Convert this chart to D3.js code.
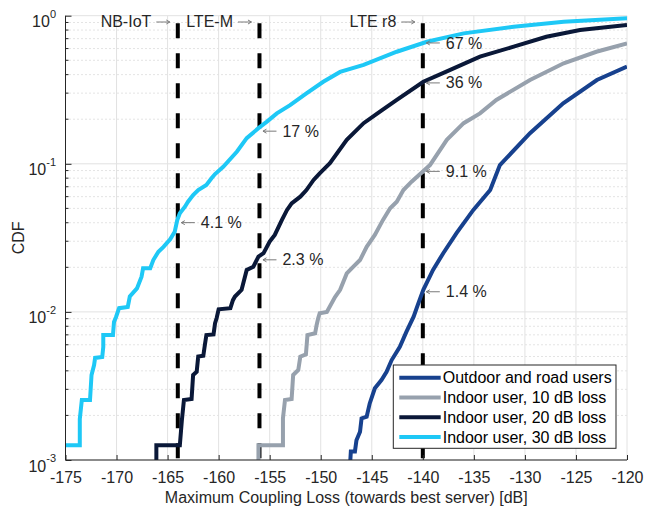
<!DOCTYPE html>
<html>
    <head>
        <meta charset="utf-8">
        <title>CDF coupling loss</title>
        <script type="text/javascript" src="https://d3js.org/d3.v7.min.js"></script>
        <style>
            body { margin: 0; background: #fff; }
            svg text { font-family: "Liberation Sans", Arial, Helvetica, sans-serif; }
        </style>
    </head>
    <body>
        <script>
            // axis ticks
            var xTicks = [-175, -170, -165, -160, -155, -150, -145, -140, -135, -130, -125, -120];
            var yDecades = [1e-3, 1e-2, 1e-1, 1];
            var yExponents = ["-3", "-2", "-1", "0"];

            // series
            var seriesNames = ["Outdoor and road users", "Indoor user, 10 dB loss", "Indoor user, 20 dB loss", "Indoor user, 30 dB loss"];
            var seriesColors = ["#17418e", "#97a1ad", "#0a1838", "#1ec8f6"];

            var outdoorX = [-147.1, -147.05, -146.65, -146.5, -146.15, -146.0, -145.5, -145.2, -144.7, -144.05, -143.55, -143.05, -142.25, -141.6, -140.9, -140.5, -139.95, -139.0, -138.0, -136.7, -135.05, -133.4, -132.45, -129.5, -126.25, -122.95, -120];
            var outdoorY = [0.001, 0.00114, 0.00114, 0.00136, 0.00155, 0.00191, 0.00196, 0.00241, 0.00305, 0.00347, 0.00394, 0.00473, 0.00582, 0.00735, 0.00929, 0.0111, 0.0141, 0.0192, 0.0249, 0.034, 0.0488, 0.0665, 0.098, 0.161, 0.256, 0.368, 0.453];

            var indoor10X = [-156.1, -156.1, -153.7, -153.7, -153.5, -152.85, -152.7, -152.2, -152.0, -151.45, -151.3, -150.55, -150.4, -150.25, -150.1, -149.4, -148.6, -148.1, -147.45, -146.8, -146.15, -145.5, -144.7, -143.9, -143.2, -142.55, -141.9, -141.1, -140.1, -139.3, -137.65, -136.0, -134.4, -132.8, -129.5, -126.2, -123.0, -120];
            var indoor10Y = [0.001, 0.00126, 0.00126, 0.00191, 0.00254, 0.00258, 0.00375, 0.00405, 0.00499, 0.00516, 0.00698, 0.00717, 0.00816, 0.00906, 0.0098, 0.01, 0.0126, 0.0141, 0.0182, 0.0202, 0.0224, 0.0275, 0.0331, 0.0418, 0.0501, 0.0555, 0.0665, 0.0757, 0.0874, 0.098, 0.145, 0.188, 0.219, 0.27, 0.368, 0.477, 0.571, 0.651];

            var indoor20X = [-166.1, -166.1, -163.8, -163.6, -163.4, -162.65, -162.5, -162.15, -162.0, -161.5, -161.35, -161.2, -160.5, -160.35, -160.2, -160.0, -158.85, -158.6, -158.4, -157.75, -157.25, -156.6, -156.1, -155.6, -155.0, -154.5, -153.8, -153.3, -152.85, -152.0, -151.4, -150.7, -150.1, -149.1, -147.45, -145.8, -144.2, -142.55, -139.95, -137.7, -134.4, -131.1, -127.9, -124.6, -120];
            var indoor20Y = [0.001, 0.00126, 0.00126, 0.00186, 0.00254, 0.00258, 0.00375, 0.00394, 0.00499, 0.00505, 0.00598, 0.00698, 0.00705, 0.00838, 0.00906, 0.0104, 0.0106, 0.012, 0.0127, 0.0141, 0.0192, 0.0202, 0.0236, 0.0249, 0.0298, 0.0331, 0.0418, 0.0488, 0.0541, 0.06, 0.0665, 0.0778, 0.0863, 0.1008, 0.145, 0.188, 0.225, 0.27, 0.358, 0.419, 0.529, 0.618, 0.721, 0.8, 0.865];

            var indoor30X = [-175, -173.6, -173.6, -173.4, -172.6, -172.45, -172.2, -172.1, -171.4, -171.3, -171.3, -170.35, -170.25, -170.05, -169.75, -168.9, -168.7, -168.0, -167.55, -167.4, -166.7, -166.4, -165.9, -165.4, -164.75, -164.3, -164.05, -163.8, -163.3, -163.0, -162.5, -162.0, -161.2, -160.7, -160.35, -159.55, -158.2, -157.25, -156.1, -155.3, -154.3, -153.0, -151.4, -149.75, -148.1, -145.8, -142.55, -139.6, -136.0, -131.1, -126.2, -120];
            var indoor30Y = [0.00126, 0.00126, 0.00189, 0.00254, 0.00254, 0.00375, 0.00438, 0.00489, 0.00496, 0.0058, 0.00698, 0.00698, 0.00855, 0.00924, 0.0106, 0.0108, 0.0127, 0.0144, 0.0173, 0.0197, 0.0197, 0.0224, 0.0255, 0.0275, 0.0309, 0.0348, 0.0418, 0.0463, 0.0513, 0.0555, 0.0616, 0.0665, 0.0719, 0.0798, 0.0853, 0.0955, 0.121, 0.149, 0.174, 0.192, 0.219, 0.249, 0.299, 0.358, 0.417, 0.465, 0.571, 0.667, 0.76, 0.843, 0.911, 0.96];

            // technology limits
            var limitX = [-164, -156, -140];
            var limitNames = ["NB-IoT", "LTE-M", "LTE r8"];

            // percentage callouts
            var noteX = [-164, -156, -156, -140, -140, -140, -140];
            var noteY = [0.041, 0.17, 0.023, 0.67, 0.36, 0.091, 0.014];
            var noteText = ["4.1 %", "17 %", "2.3 %", "67 %", "36 %", "9.1 %", "1.4 %"];

            var margin = {top: 15.7, right: 32, bottom: 46, left: 65.5};
            var width = 659 - margin.left - margin.right,
                height = 506 - margin.top - margin.bottom;

            var svg = d3.select("body").append("svg")
                .attr("width", 659)
                .attr("height", 506);

            var canvas = svg.append("g")
                .attr("transform", "translate(" + margin.left + "," + margin.top + ")");

            var x = d3.scaleLinear().domain([-175, -120]).range([0, width]);
            var y = d3.scaleLog().domain([1e-3, 1]).range([height, 0]);

            // minor y values 2..9 per decade
            var yMinor = [];
            yDecades.slice(0, 3).forEach(function(d) {
                for (var k = 2; k <= 9; k++) yMinor.push(d * k);
            });

            // grid
            canvas.append("g").selectAll("line")
                .data(yMinor)
                .enter().append("line")
                .attr("x1", 0).attr("x2", width)
                .attr("y1", function(d) { return y(d); })
                .attr("y2", function(d) { return y(d); })
                .attr("stroke", "#c8c8c8")
                .attr("stroke-width", 1)
                .attr("stroke-dasharray", "1,3");

            canvas.append("g").selectAll("line")
                .data(yDecades)
                .enter().append("line")
                .attr("x1", 0).attr("x2", width)
                .attr("y1", function(d) { return y(d); })
                .attr("y2", function(d) { return y(d); })
                .attr("stroke", "#e2e2e2");

            canvas.append("g").selectAll("line")
                .data(xTicks)
                .enter().append("line")
                .attr("x1", function(d) { return x(d); })
                .attr("x2", function(d) { return x(d); })
                .attr("y1", 0).attr("y2", height)
                .attr("stroke", "#e2e2e2");

            // dashed limit lines
            canvas.append("g").selectAll("line")
                .data(limitX)
                .enter().append("line")
                .attr("x1", function(d) { return x(d); })
                .attr("x2", function(d) { return x(d); })
                .attr("y1", y(0.89))
                .attr("y2", height)
                .attr("stroke", "#000")
                .attr("stroke-width", 4)
                .attr("stroke-dasharray", "15,15");

            // curves
            svg.append("defs").append("clipPath").attr("id", "plotclip")
                .append("rect").attr("width", width).attr("height", height);

            var allX = [outdoorX, indoor10X, indoor20X, indoor30X];
            var allY = [outdoorY, indoor10Y, indoor20Y, indoor30Y];

            var line = d3.line()
                .x(function(d) { return x(d[0]); })
                .y(function(d) { return y(d[1]); });

            var curves = canvas.append("g").attr("clip-path", "url(#plotclip)");
            allX.forEach(function(xs, i) {
                var pts = xs.map(function(v, j) { return [v, allY[i][j]]; });
                curves.append("path")
                    .datum(pts)
                    .attr("d", line)
                    .attr("fill", "none")
                    .attr("stroke", seriesColors[i])
                    .attr("stroke-width", 4)
                    .attr("stroke-linejoin", "miter");
            });

            // axes
            var xAxis = d3.axisBottom(x).tickValues(xTicks).tickSize(-5).tickPadding(12)
                .tickFormat(function(d) { return d; });
            var gx = canvas.append("g")
                .attr("transform", "translate(0," + height + ")")
                .call(xAxis);
            gx.selectAll("text").attr("font-size", 16).attr("fill", "#262626");

            var yAxis = d3.axisLeft(y).tickValues(yDecades).tickSize(-6).tickPadding(9.5);
            var gy = canvas.append("g").call(yAxis);
            gy.selectAll("text").each(function(d, i) {
                var t = d3.select(this);
                t.text(null).attr("font-size", 16).attr("fill", "#262626").attr("dy", "0.69em");
                t.append("tspan").text("10");
                t.append("tspan").attr("font-size", 11).attr("dy", "-0.85em").text(yExponents[i]);
            });
            // minor ticks
            gy.selectAll(".minor").data(yMinor).enter().append("line")
                .attr("x1", 0).attr("x2", 3)
                .attr("y1", function(d) { return y(d); })
                .attr("y2", function(d) { return y(d); })
                .attr("stroke", "#262626");

            [gx, gy].forEach(function(g) {
                g.select(".domain").attr("stroke", "#262626");
                g.selectAll(".tick line").attr("stroke", "#262626");
            });
            gy.select(".domain").attr("d", "M0," + height + "V0");
            gx.select(".domain").attr("d", "M0,0H" + width);

            // thin grey arrow, dir = 1 points right, -1 points left
            function arrow(x0, x1, yy, dir) {
                var tip = dir > 0 ? x1 : x0;
                canvas.append("path")
                    .attr("d", "M" + x0 + "," + yy + "H" + x1 +
                        "M" + (tip - dir * 3.5) + "," + (yy - 2) + "L" + tip + "," + yy +
                        "L" + (tip - dir * 3.5) + "," + (yy + 2))
                    .attr("fill", "none")
                    .attr("stroke", "#7a7a7a")
                    .attr("stroke-width", 1);
            }

            // limit labels
            limitX.forEach(function(v, i) {
                arrow(x(v) - 21.5, x(v) - 8, 6.3, 1);
                canvas.append("text")
                    .attr("x", x(v) - 26.5)
                    .attr("y", 10.8)
                    .attr("text-anchor", "end")
                    .attr("font-size", 16)
                    .attr("fill", "#262626")
                    .text(limitNames[i]);
            });

            // callouts
            noteX.forEach(function(v, i) {
                arrow(x(v) + 3.5, x(v) + 17, y(noteY[i]) + 1.5, -1);
                canvas.append("text")
                    .attr("x", x(v) + 23)
                    .attr("y", y(noteY[i]) + 1.5)
                    .attr("dy", "0.35em")
                    .attr("font-size", 16)
                    .attr("fill", "#262626")
                    .text(noteText[i]);
            });

            // axis titles
            canvas.append("text")
                .attr("x", width / 2)
                .attr("y", height + 43)
                .attr("text-anchor", "middle")
                .attr("font-size", 16)
                .attr("fill", "#262626")
                .text("Maximum Coupling Loss (towards best server) [dB]");

            canvas.append("text")
                .attr("transform", "translate(" + (-41.5) + "," + (height / 2) + ") rotate(-90)")
                .attr("text-anchor", "middle")
                .attr("font-size", 16)
                .attr("fill", "#262626")
                .text("CDF");

            // legend
            var lg = canvas.append("g")
                .attr("transform", "translate(" + (width - 233.7) + "," + (height - 95) + ")");
            lg.append("rect")
                .attr("width", 222.7).attr("height", 83.3)
                .attr("fill", "#fff")
                .attr("stroke", "#262626")
                .attr("stroke-width", 1);
            seriesNames.forEach(function(n, i) {
                lg.append("line")
                    .attr("x1", 6).attr("x2", 47.4)
                    .attr("y1", 12.7 + i * 19.8).attr("y2", 12.7 + i * 19.8)
                    .attr("stroke", seriesColors[i])
                    .attr("stroke-width", 4);
                lg.append("text")
                    .attr("x", 49.4)
                    .attr("y", 12.7 + i * 19.8)
                    .attr("dy", "0.35em")
                    .attr("font-size", 16)
                    .attr("fill", "#000")
                    .text(n);
            });
        </script>
    </body>
</html>
